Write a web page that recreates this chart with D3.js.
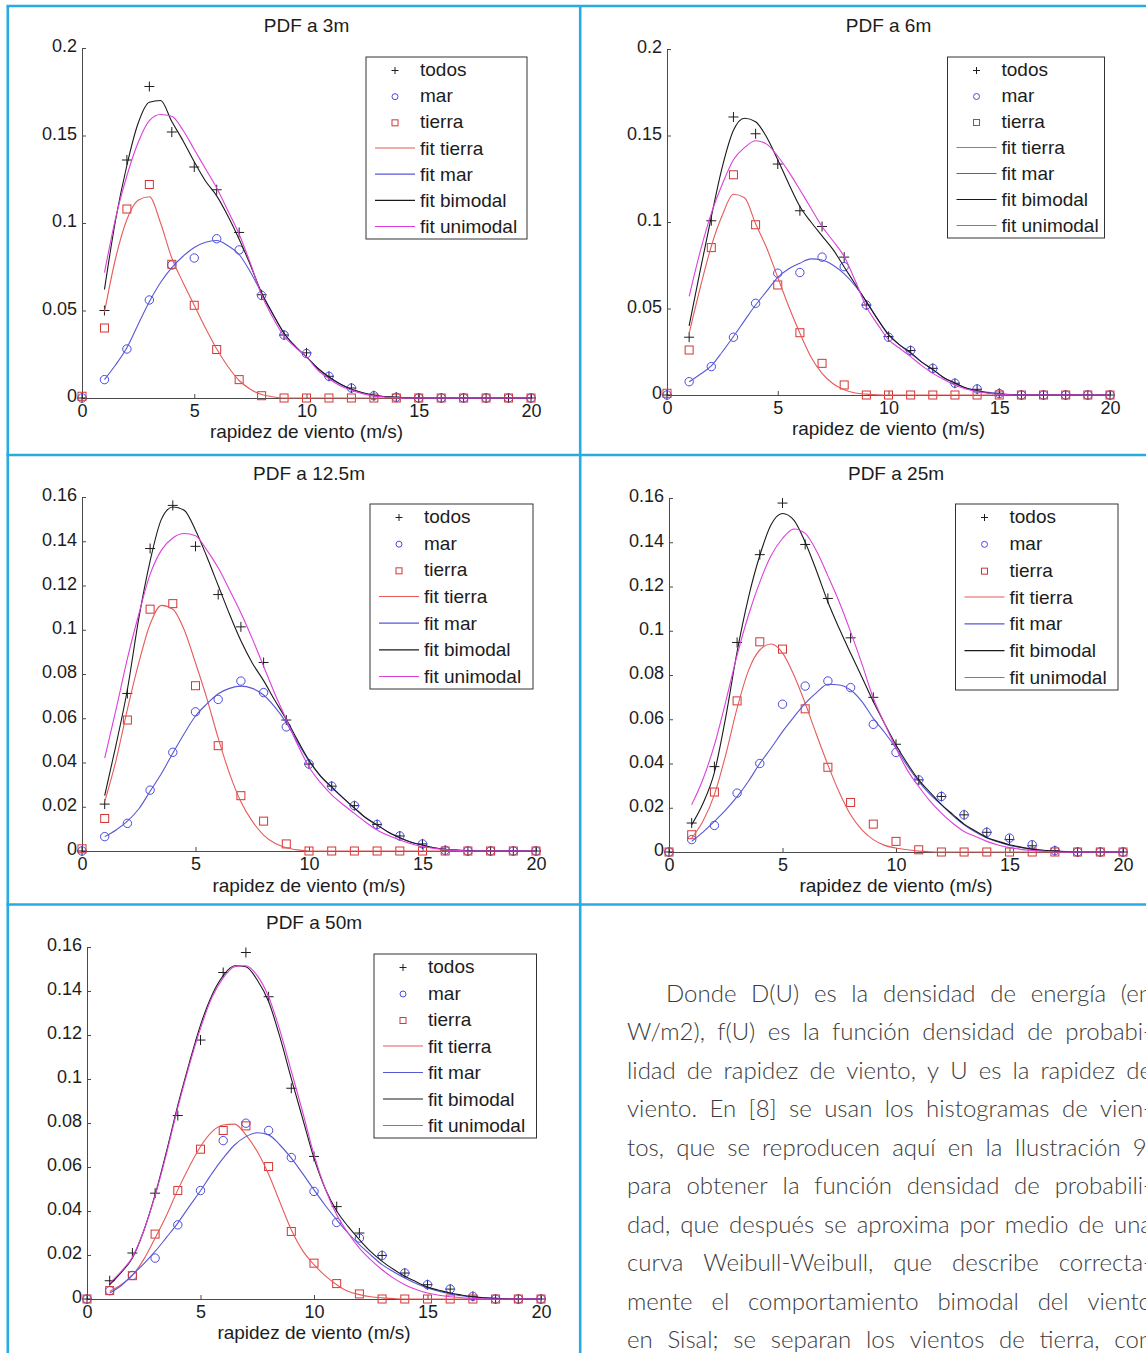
<!DOCTYPE html>
<html>
<head>
<meta charset="utf-8">
<script src="https://cdn.jsdelivr.net/npm/d3@7"></script>
<style>
  html, body { margin: 0; padding: 0; background: #fff; }
  svg { display: block; }
</style>
</head>
<body>
<svg id="fig" width="1146" height="1353"></svg>
<script>
// ---------------------------------------------------------------
// Wind-speed probability densities at five heights (Sisal).
// Histogram bins (m/s) and the speeds where the fits are sampled.
// ---------------------------------------------------------------
const speeds = [0, 1, 2, 3, 4, 5, 6, 7, 8, 9, 10, 11, 12, 13, 14, 15, 16, 17, 18, 19, 20];
const fitSpeeds = [1, 1.5, 2, 2.5, 3, 3.5, 4, 4.5, 5, 5.5, 6, 6.5, 7, 7.5, 8, 8.5, 9, 9.5, 10, 10.5,
                   11, 11.5, 12, 12.5, 13, 13.5, 14, 14.5, 15, 15.5, 16, 16.5, 17, 17.5, 18, 18.5, 19, 19.5, 20];

const titles = ["PDF a 3m", "PDF a 6m", "PDF a 12.5m", "PDF a 25m", "PDF a 50m"];
const xAxisLabel = "rapidez de viento (m/s)";
const legendLabels = ["todos", "mar", "tierra", "fit tierra", "fit mar", "fit bimodal", "fit unimodal"];

const xTicks = [0, 5, 10, 15, 20];
const xTickLabels = ["0", "5", "10", "15", "20"];
const yTicksA = [0, 0.05, 0.1, 0.15, 0.2];
const yTickLabelsA = ["0", "0.05", "0.1", "0.15", "0.2"];
const yTicksB = [0, 0.02, 0.04, 0.06, 0.08, 0.1, 0.12, 0.14, 0.16];
const yTickLabelsB = ["0", "0.02", "0.04", "0.06", "0.08", "0.1", "0.12", "0.14", "0.16"];

// ---- 3 m ----
const todos3  = [0, 0.050, 0.136, 0.178, 0.152, 0.132, 0.119, 0.0946, 0.059, 0.036, 0.0258, 0.0124, 0.0057, 0.0013, 0.0005, 0, 0, 0, 0, 0, 0];
const mar3    = [0, 0.0105, 0.028, 0.056, 0.076, 0.080, 0.091, 0.0846, 0.0586, 0.036, 0.0254, 0.0124, 0.0057, 0.0013, 0.0004, 0, 0, 0, 0, 0, 0];
const tierra3 = [0.001, 0.040, 0.108, 0.122, 0.0764, 0.053, 0.0277, 0.0105, 0.0013, 0, 0, 0, 0, 0, 0, 0, 0, 0, 0, 0, 0];
const fitTierra3   = [0.049, 0.080, 0.102, 0.113, 0.115, 0.100, 0.080, 0.066, 0.053, 0.040, 0.028, 0.018, 0.010, 0.005, 0.002, 0.0007, 0, 0, 0, 0, 0, 0, 0, 0, 0, 0, 0, 0, 0, 0, 0, 0, 0, 0, 0, 0, 0, 0, 0];
const fitMar3      = [0.0105, 0.019, 0.0287, 0.042, 0.055, 0.066, 0.0745, 0.081, 0.086, 0.089, 0.090, 0.087, 0.082, 0.072, 0.060, 0.048, 0.037, 0.0295, 0.0235, 0.017, 0.012, 0.008, 0.005, 0.003, 0.0015, 0.0008, 0.0004, 0.0001, 0, 0, 0, 0, 0, 0, 0, 0, 0, 0, 0];
const fitBimodal3  = [0.062, 0.102, 0.133, 0.157, 0.169, 0.170, 0.158, 0.147, 0.135, 0.124, 0.1155, 0.104, 0.0907, 0.076, 0.060, 0.048, 0.037, 0.0295, 0.0235, 0.017, 0.012, 0.008, 0.005, 0.003, 0.0015, 0.0008, 0.0004, 0.0001, 0, 0, 0, 0, 0, 0, 0, 0, 0, 0, 0];
const fitUnimodal3 = [0.0716, 0.103, 0.127, 0.146, 0.1585, 0.162, 0.161, 0.153, 0.142, 0.131, 0.120, 0.107, 0.0936, 0.077, 0.059, 0.046, 0.0353, 0.029, 0.0235, 0.016, 0.011, 0.007, 0.0045, 0.0025, 0.0012, 0.0006, 0.0002, 0, 0, 0, 0, 0, 0, 0, 0, 0, 0, 0, 0];

// ---- 6 m ----
const todos6  = [0, 0.0334, 0.1007, 0.1607, 0.151, 0.1335, 0.1065, 0.0974, 0.0797, 0.052, 0.0338, 0.0257, 0.0154, 0.0068, 0.0033, 0.001, 0, 0, 0, 0, 0];
const mar6    = [0, 0.0077, 0.0164, 0.0334, 0.053, 0.0704, 0.0708, 0.0797, 0.0742, 0.052, 0.0334, 0.0257, 0.0154, 0.0068, 0.0035, 0.0008, 0, 0, 0, 0, 0];
const tierra6 = [0.001, 0.026, 0.0852, 0.1273, 0.0984, 0.0636, 0.036, 0.0183, 0.0058, 0, 0, 0, 0, 0, 0, 0, 0, 0, 0, 0, 0];
const fitTierra6   = [0.0357, 0.062, 0.086, 0.104, 0.116, 0.114, 0.099, 0.085, 0.068, 0.051, 0.0357, 0.022, 0.0125, 0.0065, 0.003, 0.0012, 0.0005, 0.0001, 0, 0, 0, 0, 0, 0, 0, 0, 0, 0, 0, 0, 0, 0, 0, 0, 0, 0, 0, 0, 0];
const fitMar6      = [0.0077, 0.012, 0.0168, 0.025, 0.0338, 0.043, 0.052, 0.060, 0.068, 0.073, 0.0762, 0.0787, 0.078, 0.075, 0.070, 0.063, 0.054, 0.044, 0.0347, 0.029, 0.024, 0.019, 0.0145, 0.010, 0.0068, 0.004, 0.0025, 0.0015, 0.0008, 0.0003, 0, 0, 0, 0, 0, 0, 0, 0, 0];
const fitBimodal6  = [0.040, 0.072, 0.103, 0.132, 0.153, 0.160, 0.158, 0.149, 0.136, 0.122, 0.109, 0.100, 0.092, 0.084, 0.074, 0.064, 0.054, 0.044, 0.035, 0.029, 0.0245, 0.019, 0.0148, 0.010, 0.007, 0.004, 0.0025, 0.0012, 0.0006, 0.0002, 0, 0, 0, 0, 0, 0, 0, 0, 0];
const fitUnimodal6 = [0.057, 0.083, 0.105, 0.122, 0.136, 0.143, 0.147, 0.145, 0.138, 0.129, 0.1186, 0.108, 0.0974, 0.089, 0.080, 0.066, 0.051, 0.041, 0.032, 0.027, 0.0222, 0.017, 0.0125, 0.009, 0.0058, 0.0035, 0.002, 0.001, 0.0005, 0.0001, 0, 0, 0, 0, 0, 0, 0, 0, 0];

// ---- 12.5 m ----
const todos12  = [0, 0.0212, 0.0712, 0.1367, 0.1562, 0.1377, 0.1159, 0.1013, 0.0852, 0.0592, 0.0393, 0.0293, 0.0205, 0.012, 0.0068, 0.0032, 0.0003, 0, 0, 0, 0];
const mar12    = [0, 0.0065, 0.0125, 0.0275, 0.0446, 0.0629, 0.0685, 0.0768, 0.0716, 0.0561, 0.0393, 0.0293, 0.0205, 0.012, 0.0068, 0.0032, 0.0003, 0, 0, 0, 0];
const tierra12 = [0.001, 0.0147, 0.0592, 0.1093, 0.1118, 0.0747, 0.0476, 0.025, 0.0135, 0.0032, 0, 0, 0, 0, 0, 0, 0, 0, 0, 0, 0];
const fitTierra12   = [0.0223, 0.041, 0.064, 0.085, 0.1025, 0.111, 0.1093, 0.100, 0.085, 0.069, 0.051, 0.035, 0.0223, 0.0135, 0.0072, 0.0035, 0.0015, 0.0005, 0, 0, 0, 0, 0, 0, 0, 0, 0, 0, 0, 0, 0, 0, 0, 0, 0, 0, 0, 0, 0];
const fitMar12      = [0.0065, 0.0095, 0.0135, 0.019, 0.027, 0.035, 0.0442, 0.053, 0.061, 0.0665, 0.0711, 0.0735, 0.0745, 0.0735, 0.0705, 0.065, 0.058, 0.049, 0.0406, 0.034, 0.0286, 0.024, 0.0193, 0.015, 0.0117, 0.0085, 0.006, 0.004, 0.0027, 0.0015, 0.0008, 0.0004, 0.0002, 0, 0, 0, 0, 0, 0];
const fitBimodal12  = [0.025, 0.048, 0.073, 0.105, 0.131, 0.150, 0.1555, 0.154, 0.145, 0.133, 0.120, 0.107, 0.095, 0.085, 0.077, 0.068, 0.0595, 0.050, 0.041, 0.034, 0.029, 0.024, 0.0195, 0.015, 0.0118, 0.0085, 0.006, 0.004, 0.0027, 0.0015, 0.0008, 0.0004, 0.0002, 0, 0, 0, 0, 0, 0];
const fitUnimodal12 = [0.042, 0.064, 0.087, 0.107, 0.125, 0.136, 0.1415, 0.1435, 0.1425, 0.136, 0.128, 0.118, 0.1076, 0.096, 0.0835, 0.071, 0.0595, 0.048, 0.038, 0.031, 0.0254, 0.021, 0.017, 0.013, 0.0095, 0.007, 0.005, 0.0033, 0.002, 0.0012, 0.0006, 0.0003, 0, 0, 0, 0, 0, 0, 0];

// ---- 25 m ----
const todos25  = [0, 0.0131, 0.0386, 0.0947, 0.1344, 0.1577, 0.139, 0.1146, 0.0968, 0.0699, 0.0487, 0.0326, 0.0251, 0.0168, 0.0089, 0.0056, 0.0028, 0.0006, 0, 0, 0];
const mar25    = [0, 0.0056, 0.012, 0.0266, 0.040, 0.0668, 0.075, 0.0773, 0.0743, 0.0577, 0.045, 0.0326, 0.0251, 0.0168, 0.0089, 0.0063, 0.0033, 0.0006, 0, 0, 0];
const tierra25 = [0, 0.0078, 0.0271, 0.0683, 0.095, 0.0917, 0.0647, 0.0383, 0.0224, 0.0126, 0.0048, 0.001, 0, 0, 0, 0, 0, 0, 0, 0, 0];
const fitTierra25   = [0.0063, 0.014, 0.0259, 0.044, 0.065, 0.082, 0.0913, 0.094, 0.090, 0.080, 0.0672, 0.053, 0.0394, 0.027, 0.0168, 0.010, 0.0056, 0.003, 0.0018, 0.001, 0.0004, 0.0001, 0, 0, 0, 0, 0, 0, 0, 0, 0, 0, 0, 0, 0, 0, 0, 0, 0];
const fitMar25      = [0.0048, 0.009, 0.0138, 0.019, 0.025, 0.032, 0.040, 0.047, 0.0544, 0.061, 0.0672, 0.072, 0.0758, 0.0755, 0.0732, 0.068, 0.0604, 0.054, 0.0469, 0.039, 0.0319, 0.026, 0.0214, 0.0165, 0.0123, 0.009, 0.0063, 0.0045, 0.003, 0.002, 0.0012, 0.0007, 0.0004, 0.0002, 0, 0, 0, 0, 0];
const fitBimodal25  = [0.0123, 0.022, 0.036, 0.061, 0.0905, 0.115, 0.134, 0.148, 0.153, 0.150, 0.140, 0.127, 0.113, 0.101, 0.0898, 0.079, 0.068, 0.058, 0.0484, 0.040, 0.0326, 0.027, 0.0214, 0.017, 0.0126, 0.0095, 0.0066, 0.0048, 0.0033, 0.0022, 0.0013, 0.0008, 0.0004, 0.0002, 0, 0, 0, 0, 0];
const fitUnimodal25 = [0.0214, 0.033, 0.0484, 0.068, 0.089, 0.107, 0.122, 0.134, 0.1417, 0.146, 0.144, 0.136, 0.1248, 0.113, 0.0995, 0.085, 0.0695, 0.058, 0.0469, 0.037, 0.0296, 0.023, 0.0176, 0.013, 0.0093, 0.007, 0.0048, 0.0032, 0.002, 0.0012, 0.0007, 0.0003, 0, 0, 0, 0, 0, 0, 0];

// ---- 50 m ----
const todos50  = [0, 0.0083, 0.0209, 0.0481, 0.0834, 0.1177, 0.1484, 0.1575, 0.1374, 0.0958, 0.0648, 0.042, 0.030, 0.0198, 0.0118, 0.0065, 0.0045, 0.0012, 0, 0, 0];
const mar50    = [0, 0.0038, 0.0107, 0.0186, 0.0337, 0.0493, 0.072, 0.0799, 0.0766, 0.0643, 0.0489, 0.0348, 0.0277, 0.0198, 0.0118, 0.0065, 0.0045, 0.0012, 0, 0, 0];
const tierra50 = [0, 0.0038, 0.0106, 0.0295, 0.0493, 0.0681, 0.0766, 0.0787, 0.0602, 0.0307, 0.0163, 0.007, 0.0023, 0, 0, 0, 0, 0, 0, 0, 0];
const fitTierra50   = [0.0035, 0.0065, 0.0107, 0.018, 0.0277, 0.038, 0.0496, 0.060, 0.0693, 0.076, 0.0791, 0.0795, 0.0746, 0.067, 0.0567, 0.044, 0.0315, 0.022, 0.0156, 0.0105, 0.0065, 0.0035, 0.002, 0.001, 0.0005, 0.0002, 0, 0, 0, 0, 0, 0, 0, 0, 0, 0, 0, 0, 0];
const fitMar50      = [0.0027, 0.006, 0.011, 0.016, 0.0216, 0.028, 0.0345, 0.042, 0.0492, 0.057, 0.064, 0.070, 0.0738, 0.0756, 0.0746, 0.070, 0.064, 0.057, 0.0496, 0.0425, 0.036, 0.030, 0.0247, 0.020, 0.0156, 0.0124, 0.0095, 0.007, 0.005, 0.0035, 0.0023, 0.0015, 0.0009, 0.0005, 0.0003, 0.0001, 0, 0, 0];
const fitBimodal50  = [0.0065, 0.012, 0.0186, 0.031, 0.0474, 0.067, 0.088, 0.107, 0.1245, 0.138, 0.147, 0.1515, 0.151, 0.145, 0.1352, 0.119, 0.1002, 0.082, 0.064, 0.050, 0.040, 0.033, 0.027, 0.0215, 0.0171, 0.0135, 0.0103, 0.0078, 0.0054, 0.004, 0.0027, 0.0018, 0.001, 0.0006, 0.0003, 0.0001, 0, 0, 0];
const fitUnimodal50 = [0.0073, 0.0125, 0.019, 0.031, 0.047, 0.066, 0.087, 0.106, 0.123, 0.137, 0.146, 0.151, 0.1515, 0.147, 0.1374, 0.122, 0.1036, 0.085, 0.0655, 0.050, 0.0383, 0.030, 0.0231, 0.0178, 0.0133, 0.0095, 0.0065, 0.0043, 0.0027, 0.0017, 0.001, 0.0006, 0.0003, 0, 0, 0, 0, 0, 0];

// Paragraph set beside the last panel (one entry per printed line).
const paragraphLines = [
  "Donde D(U) es la densidad de energía (en",
  "W/m2), f(U) es la función densidad de probabi-",
  "lidad de rapidez de viento, y U es la rapidez de",
  "viento. En [8] se usan los histogramas de vien-",
  "tos, que se reproducen aquí en la Ilustración 9,",
  "para obtener la función densidad de probabili-",
  "dad, que después se aproxima por medio de una",
  "curva Weibull-Weibull, que describe correcta-",
  "mente el comportamiento bimodal del viento",
  "en Sisal; se separan los vientos de tierra, con"
];

// ---------------------------------------------------------------
// Styling and layout
// ---------------------------------------------------------------
const COL = {
  todos: "#1e1e1e", mar: "#4a4ae6", tierra: "#d43535",
  fitTierra: "#e85a5a", fitMar: "#5757d6", fitBimodal: "#1a1a1a", fitUnimodal: "#dd3fdd",
  axis: "#4a4a4a", text: "#1c1c1c", border: "#27abe0", para: "#3b3b3b"
};
const FONT = "'Liberation Sans', Arial, Helvetica, sans-serif";

const panels = [
  { title: titles[0], todos: todos3, mar: mar3, tierra: tierra3,
    fits: [fitTierra3, fitMar3, fitBimodal3, fitUnimodal3],
    yMax: 0.2, yTicks: yTicksA, yLabels: yTickLabelsA,
    box: { x0: 82, x1: 531, y0: 398, y1: 48, titleY: 31.5, xlabY: 438 },
    legend: { x: 366, y: 57, w: 161, h: 182 } },
  { title: titles[1], todos: todos6, mar: mar6, tierra: tierra6,
    fits: [fitTierra6, fitMar6, fitBimodal6, fitUnimodal6],
    yMax: 0.2, yTicks: yTicksA, yLabels: yTickLabelsA,
    box: { x0: 667, x1: 1110, y0: 395, y1: 49, titleY: 31.5, xlabY: 435 },
    legend: { x: 947.5, y: 57, w: 157, h: 181 } },
  { title: titles[2], todos: todos12, mar: mar12, tierra: tierra12,
    fits: [fitTierra12, fitMar12, fitBimodal12, fitUnimodal12],
    yMax: 0.16, yTicks: yTicksB, yLabels: yTickLabelsB,
    box: { x0: 82, x1: 536, y0: 851, y1: 497, titleY: 480, xlabY: 891.5 },
    legend: { x: 370, y: 504, w: 163, h: 185 } },
  { title: titles[3], todos: todos25, mar: mar25, tierra: tierra25,
    fits: [fitTierra25, fitMar25, fitBimodal25, fitUnimodal25],
    yMax: 0.16, yTicks: yTicksB, yLabels: yTickLabelsB,
    box: { x0: 669, x1: 1123, y0: 852, y1: 498, titleY: 480, xlabY: 892 },
    legend: { x: 955.5, y: 504, w: 162.5, h: 186 } },
  { title: titles[4], todos: todos50, mar: mar50, tierra: tierra50,
    fits: [fitTierra50, fitMar50, fitBimodal50, fitUnimodal50],
    yMax: 0.16, yTicks: yTicksB, yLabels: yTickLabelsB,
    box: { x0: 87, x1: 541, y0: 1299, y1: 947, titleY: 929, xlabY: 1339 },
    legend: { x: 374, y: 954, w: 162.5, h: 184 } }
];

const fitColors = [COL.fitTierra, COL.fitMar, COL.fitBimodal, COL.fitUnimodal];

const svg = d3.select("#fig");
svg.append("rect").attr("width", 1146).attr("height", 1353).attr("fill", "#fff");

// marker painters
function plusMark(sel, size) {
  sel.append("path").attr("d", `M${-size},0H${size}M0,${-size}V${size}`)
    .attr("stroke", COL.todos).attr("stroke-width", 1).attr("fill", "none");
}
function circleMark(sel, r) {
  sel.append("circle").attr("r", r)
    .attr("stroke", COL.mar).attr("stroke-width", 1).attr("fill", "none");
}
function squareMark(sel, s) {
  sel.append("rect").attr("x", -s).attr("y", -s).attr("width", 2 * s).attr("height", 2 * s)
    .attr("stroke", COL.tierra).attr("stroke-width", 1).attr("fill", "none");
}

function drawPanel(p) {
  const b = p.box;
  const g = svg.append("g");
  const x = d3.scaleLinear().domain([0, 20]).range([b.x0, b.x1]);
  const y = d3.scaleLinear().domain([0, p.yMax]).range([b.y0, b.y1]);

  // axes (ticks point inward)
  const yAxis = d3.axisLeft(y).tickValues(p.yTicks).tickSize(-4).tickSizeOuter(0)
    .tickPadding(5).tickFormat((d, i) => p.yLabels[i]);
  const xAxis = d3.axisBottom(x).tickValues(xTicks).tickSize(-4).tickSizeOuter(0)
    .tickPadding(6).tickFormat((d, i) => xTickLabels[i]);

  const ga = g.append("g").attr("transform", `translate(${b.x0},0)`).call(yAxis);
  const gb = g.append("g").attr("transform", `translate(0,${b.y0})`).call(xAxis);
  [ga, gb].forEach(a => {
    a.select(".domain").attr("stroke", COL.axis).attr("stroke-width", 1);
    a.selectAll(".tick line").attr("stroke", COL.axis).attr("stroke-width", 1);
    a.selectAll("text").attr("font-family", FONT).attr("font-size", 18).attr("fill", COL.text);
  });
  ga.selectAll("text").attr("dy", "0.22em");

  // histogram points
  const pts = g.append("g");
  pts.selectAll(".p-todos").data(speeds).join("g")
    .attr("transform", (d, i) => `translate(${x(d)},${y(p.todos[i])})`)
    .each(function () { plusMark(d3.select(this), 5); });
  pts.selectAll(".p-mar").data(speeds).join("g")
    .attr("transform", (d, i) => `translate(${x(d)},${y(p.mar[i])})`)
    .each(function () { circleMark(d3.select(this), 4.2); });
  pts.selectAll(".p-tierra").data(speeds).join("g")
    .attr("transform", (d, i) => `translate(${x(d)},${y(p.tierra[i])})`)
    .each(function () { squareMark(d3.select(this), 4); });

  // fitted curves
  p.fits.forEach((vals, k) => {
    const line = d3.line().x((d, i) => x(fitSpeeds[i])).y(d => y(d)).curve(d3.curveMonotoneX);
    g.append("path").datum(vals).attr("d", line)
      .attr("fill", "none").attr("stroke", fitColors[k]).attr("stroke-width", 1.1);
  });

  // title and axis label
  const cx = (b.x0 + b.x1) / 2;
  g.append("text").attr("x", cx).attr("y", b.titleY).attr("text-anchor", "middle")
    .attr("font-family", FONT).attr("font-size", 19).attr("fill", COL.text).text(p.title);
  g.append("text").attr("x", cx).attr("y", b.xlabY).attr("text-anchor", "middle")
    .attr("font-family", FONT).attr("font-size", 19).attr("fill", COL.text).text(xAxisLabel);

  // legend
  const L = p.legend;
  const lg = g.append("g");
  lg.append("rect").attr("x", L.x).attr("y", L.y).attr("width", L.w).attr("height", L.h)
    .attr("fill", "#fff").attr("stroke", "#333").attr("stroke-width", 1);
  const step = (L.h - 25) / 6;
  legendLabels.forEach((lab, i) => {
    const ry = L.y + 12.5 + i * step;
    const mx = L.x + 29;
    if (i === 0) plusMark(lg.append("g").attr("transform", `translate(${mx},${ry + 1})`), 3.5);
    else if (i === 1) circleMark(lg.append("g").attr("transform", `translate(${mx},${ry + 1})`), 3);
    else if (i === 2) squareMark(lg.append("g").attr("transform", `translate(${mx},${ry + 1})`), 3);
    else {
      lg.append("line").attr("x1", L.x + 9).attr("x2", L.x + 49).attr("y1", ry).attr("y2", ry)
        .attr("stroke", fitColors[i - 3]).attr("stroke-width", 1.2);
    }
    lg.append("text").attr("x", L.x + 54).attr("y", ry).attr("dy", "0.35em")
      .attr("font-family", FONT).attr("font-size", 19).attr("fill", COL.text).text(lab);
  });
}

panels.forEach(drawPanel);

// table rules around the figure cells
const rules = svg.append("g").attr("stroke", COL.border).attr("stroke-width", 2.6);
[[7.8, 6, 7.8, 1353], [580.2, 6, 580.2, 1353],
 [6.5, 6, 1146, 6], [6.5, 455, 1146, 455], [6.5, 904.5, 1146, 904.5]]
  .forEach(([x1, y1, x2, y2]) => rules.append("line")
    .attr("x1", x1).attr("y1", y1).attr("x2", x2).attr("y2", y2));

// justified paragraph
const para = svg.append("g").attr("font-family", "Lato, 'Open Sans', sans-serif")
  .attr("font-weight", 300).attr("font-size", 24).attr("fill", COL.para);
const paraLeft = 627, paraRight = 1152, indent = 39, lineH = 38.55, firstBase = 1001.5;
paragraphLines.forEach((ln, i) => {
  const words = ln.split(" ");
  const left = paraLeft + (i === 0 ? indent : 0);
  const yb = firstBase + i * lineH;
  const nodes = words.map(w => para.append("text").attr("y", yb).text(w));
  const widths = nodes.map(n => n.node().getComputedTextLength());
  const total = d3.sum(widths);
  const gap = (paraRight - left - total) / (words.length - 1);
  let cx = left;
  nodes.forEach((n, k) => { n.attr("x", cx); cx += widths[k] + gap; });
});
</script>
</body>
</html>
